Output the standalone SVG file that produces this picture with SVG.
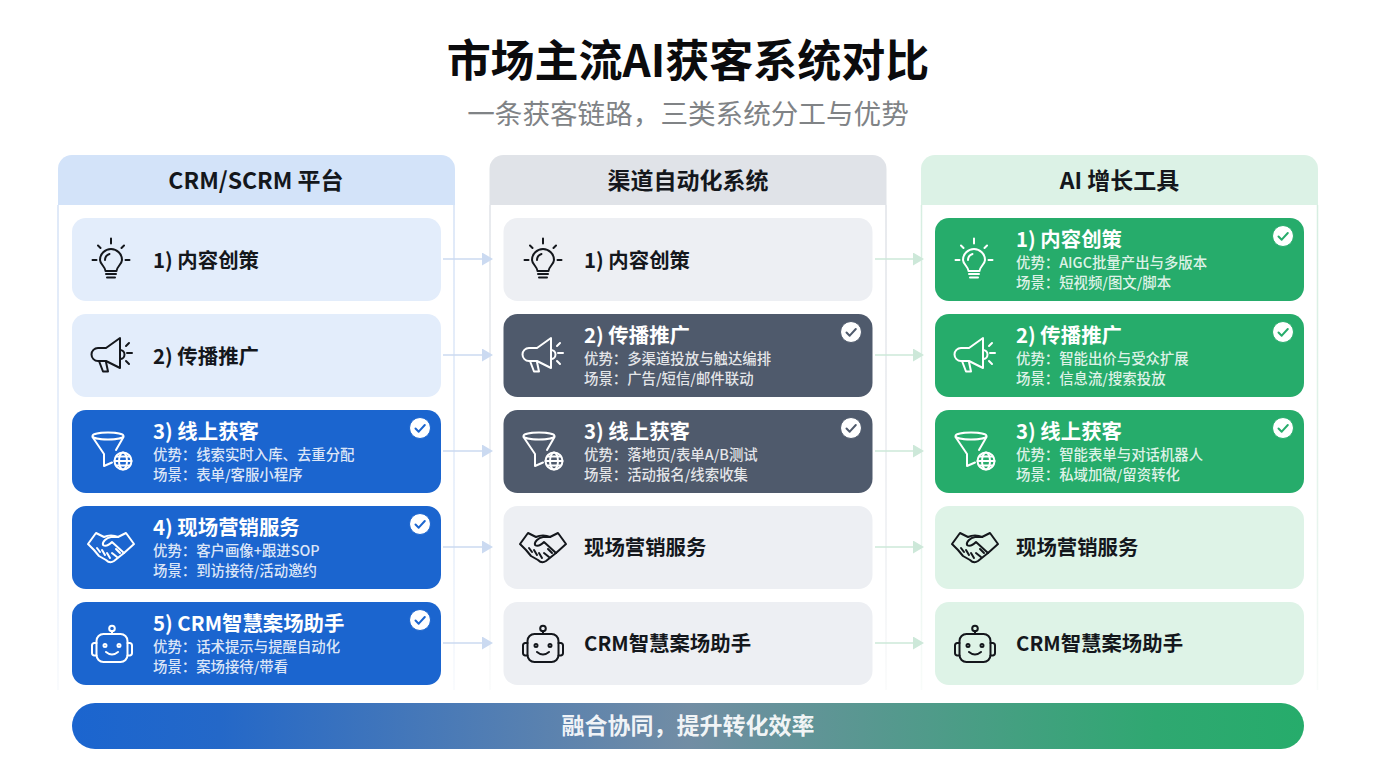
<svg xmlns="http://www.w3.org/2000/svg" xmlns:xlink="http://www.w3.org/1999/xlink" width="1376" height="768" viewBox="0 0 1376 768">
<style>
text{font-family:"Noto Sans CJK SC","Noto Sans",sans-serif}
.title{font-size:44px;font-weight:700;fill:#0b0b0d;text-anchor:middle}
.sub{font-size:27.6px;font-weight:400;fill:#808386;text-anchor:middle}
.hd{font-size:23px;font-weight:700;fill:#14171c;text-anchor:middle}
.ct{font-size:20.4px;font-weight:700}
.cd{font-size:14.4px;font-weight:500}
.bar{font-size:23px;font-weight:700;fill:#fff;text-anchor:middle;fill-opacity:.92}
.dk .ct{fill:#14171c}
.lt .ct{fill:#fff}
.lt .cd{fill:#fff;fill-opacity:.86}
.dk{color:#14171c}
.lt{color:#fff}
.ic{fill:none;stroke:currentColor;stroke-width:2;stroke-linecap:round;stroke-linejoin:round}
.blue-s{fill:#e3edfb}.grey-s{fill:#edeff3}.green-s{fill:#def3e7}
.blue{fill:#1b65cf}.grey{fill:#4f5a6c}.green{fill:#26ac6b}
.lb{stroke:#cbdaf1;stroke-width:1.6;fill:none}.lg{stroke:#cde8d9;stroke-width:1.6;fill:none}
</style>
<defs>
<linearGradient id="barG" x1="0" x2="1" y1="0" y2="0"><stop offset="0" stop-color="#1b65cf"/><stop offset=".12" stop-color="#2468c8"/><stop offset=".5" stop-color="#728da4"/><stop offset=".88" stop-color="#2fa871"/><stop offset="1" stop-color="#26ac6b"/></linearGradient>
<linearGradient id="fB" gradientUnits="userSpaceOnUse" x1="0" y1="205" x2="0" y2="695"><stop offset="0" stop-color="#d5e2f6"/><stop offset=".7" stop-color="#e6eefa"/><stop offset="1" stop-color="#f8fafd"/></linearGradient>
<linearGradient id="fK" gradientUnits="userSpaceOnUse" x1="0" y1="205" x2="0" y2="695"><stop offset="0" stop-color="#e0e3e8"/><stop offset=".7" stop-color="#edeff2"/><stop offset="1" stop-color="#fafbfb"/></linearGradient>
<linearGradient id="fG" gradientUnits="userSpaceOnUse" x1="0" y1="205" x2="0" y2="695"><stop offset="0" stop-color="#d6eee1"/><stop offset=".7" stop-color="#e8f5ee"/><stop offset="1" stop-color="#f9fcfa"/></linearGradient>
<marker id="aB" markerUnits="userSpaceOnUse" markerWidth="11" markerHeight="13" refX="0" refY="6.5" orient="auto"><path d="M0 0L11 6.5L0 13Z" fill="#cbdaf1"/></marker>
<marker id="aG" markerUnits="userSpaceOnUse" markerWidth="11" markerHeight="13" refX="0" refY="6.5" orient="auto"><path d="M0 0L11 6.5L0 13Z" fill="#cde8d9"/></marker>
<g id="i1" class="ic"><path d="M-5.500 12C-5.500 8-11 5-11 1A11 11 0 1 1 11 1C11 5 5.500 8 5.500 12Z"/><path d="M-5 15H5M-4 18.500H4M-6 1A6.500 6.500 0 0 1-1.500-5M0-20.500V-15.500M-18.500 1H-14.500M14.500 1H18.500M-13-13.500L-10.500-11M13-13.500L10.500-11"/></g>
<g id="i2" class="ic"><path d="M8-17V13L-6 6H-14A6.500 6.500 0 0 1-14-7H-6Z"/><path d="M-13 6L-9 16.500H-4L-6 7M8-5A4.500 4.500 0 0 1 8 4M14-9L17-12M15-2H20M14 6L17 9"/></g>
<g id="i3" class="ic"><ellipse cx="-4" cy="-15" rx="15.500" ry="3.500"/><path d="M-19.500-14L-8 3V15L0 11.500M11.500-14L4-1"/><circle cx="11" cy="10" r="8.500"/><path d="M2.500 10H19.500M4 5.500H18M4 14.500H18"/><ellipse cx="11" cy="10" rx="4" ry="8.500"/></g>
<g id="i4" class="ic"><path d="M-23-3L-15-14L-7-10C-3-12 3-12 7-10L15-14L23-3L13 6L3 14C0 16-3 15-5 13L-12 9L-17 3Z"/><path d="M7-10H0C-5-9-9-5-8-2C-5 0-2-2 1-5L13 6M-14 1L-11 5M-9 3L-6 8M-4 6L-1 11M5 2L9 6M1 6L6 10"/></g>
<g id="i5" class="ic"><rect x="-15.500" y="-10" width="31" height="28" rx="7"/><path d="M-15.500-1H-18A2.500 2.500 0 0 0-20 1.500V9A2.500 2.500 0 0 0-18 11.500H-15.500M15.500-1H18A2.500 2.500 0 0 1 20 1.500V9A2.500 2.500 0 0 1 18 11.500H15.500M0-13V-10M-6 8Q0 13 6 8"/><circle cx="0" cy="-15.500" r="2.800"/><circle cx="-7" cy="1.500" r="1.500"/><circle cx="7" cy="1.500" r="1.500"/></g>
<g id="chk"><circle r="10.500" fill="#fff"/><path d="M-4.500 0.500L-1.300 3.700L4.800-3" fill="none" stroke-width="2" stroke-linecap="round" stroke-linejoin="round"/></g>
</defs>
<rect width="1376" height="768" fill="#fff"/>
<g id="heading"><text class="title" x="688" y="77">市场主流AI获客系统对比</text><text class="sub" x="688" y="124">一条获客链路，三类系统分工与优势</text></g>

<g id="col-crm"><path d="M58 205V690M454 205V690" fill="none" stroke="url(#fB)" stroke-width="1.500"/><path d="M58 205V169A14 14 0 0 1 72 155H441A14 14 0 0 1 455 169V205Z" fill="#d3e3f9"/><text class="hd" x="256" y="189">CRM/SCRM 平台</text></g>
<g id="col-channel"><path d="M490 205V690M886 205V690" fill="none" stroke="url(#fK)" stroke-width="1.500"/><path d="M489.500 205V169A14 14 0 0 1 503.500 155H872.500A14 14 0 0 1 886.500 169V205Z" fill="#e0e3e8"/><text class="hd" x="688" y="189">渠道自动化系统</text></g>
<g id="col-ai"><path d="M921.500 205V690M1317.500 205V690" fill="none" stroke="url(#fG)" stroke-width="1.500"/><path d="M921 205V169A14 14 0 0 1 935 155H1304A14 14 0 0 1 1318 169V205Z" fill="#dcf2e6"/><text class="hd" x="1119.500" y="189">AI 增长工具</text></g>

<g id="connectors">
<path class="lb" d="M443 259H482" marker-end="url(#aB)"/><path class="lb" d="M443 355H482" marker-end="url(#aB)"/><path class="lb" d="M443 451H482" marker-end="url(#aB)"/><path class="lb" d="M443 547H482" marker-end="url(#aB)"/><path class="lb" d="M443 643H482" marker-end="url(#aB)"/>
<path class="lg" d="M875 259H913" marker-end="url(#aG)"/><path class="lg" d="M875 355H913" marker-end="url(#aG)"/><path class="lg" d="M875 451H913" marker-end="url(#aG)"/><path class="lg" d="M875 547H913" marker-end="url(#aG)"/><path class="lg" d="M875 643H913" marker-end="url(#aG)"/>
</g>

<g id="a1" class="dk"><rect class="blue-s" x="72" y="218" width="369" height="83" rx="14"/><use href="#i1" x="111" y="259"/><text class="ct" x="153" y="267.500">1) 内容创策</text></g>
<g id="a2" class="dk"><rect class="blue-s" x="72" y="314" width="369" height="83" rx="14"/><use href="#i2" x="112" y="355"/><text class="ct" x="153" y="363.500">2) 传播推广</text></g>
<g id="a3" class="lt"><rect class="blue" x="72" y="410" width="369" height="83" rx="14"/><use href="#i3" x="112" y="451"/><text class="ct" x="153" y="439">3) 线上获客</text><text class="cd" x="153" y="460">优势：线索实时入库、去重分配</text><text class="cd" x="153" y="480">场景：表单/客服小程序</text><use href="#chk" x="420" y="428" stroke="#1b65cf"/></g>
<g id="a4" class="lt"><rect class="blue" x="72" y="506" width="369" height="83" rx="14"/><use href="#i4" x="111" y="547"/><text class="ct" x="153" y="535">4) 现场营销服务</text><text class="cd" x="153" y="556">优势：客户画像+跟进SOP</text><text class="cd" x="153" y="576">场景：到访接待/活动邀约</text><use href="#chk" x="420" y="524" stroke="#1b65cf"/></g>
<g id="a5" class="lt"><rect class="blue" x="72" y="602" width="369" height="83" rx="14"/><use href="#i5" x="112" y="644"/><text class="ct" x="153" y="631">5) CRM智慧案场助手</text><text class="cd" x="153" y="652">优势：话术提示与提醒自动化</text><text class="cd" x="153" y="672">场景：案场接待/带看</text><use href="#chk" x="420" y="620" stroke="#1b65cf"/></g>

<g id="b1" class="dk"><rect class="grey-s" x="503.500" y="218" width="369" height="83" rx="14"/><use href="#i1" x="543" y="259"/><text class="ct" x="584" y="267.500">1) 内容创策</text></g>
<g id="b2" class="lt"><rect class="grey" x="503.500" y="314" width="369" height="83" rx="14"/><use href="#i2" x="543" y="355"/><text class="ct" x="584" y="343">2) 传播推广</text><text class="cd" x="584" y="364">优势：多渠道投放与触达编排</text><text class="cd" x="584" y="384">场景：广告/短信/邮件联动</text><use href="#chk" x="851" y="332" stroke="#4f5a6c"/></g>
<g id="b3" class="lt"><rect class="grey" x="503.500" y="410" width="369" height="83" rx="14"/><use href="#i3" x="543" y="451"/><text class="ct" x="584" y="439">3) 线上获客</text><text class="cd" x="584" y="460">优势：落地页/表单A/B测试</text><text class="cd" x="584" y="480">场景：活动报名/线索收集</text><use href="#chk" x="851" y="428" stroke="#4f5a6c"/></g>
<g id="b4" class="dk"><rect class="grey-s" x="503.500" y="506" width="369" height="83" rx="14"/><use href="#i4" x="543" y="547"/><text class="ct" x="584" y="555">现场营销服务</text></g>
<g id="b5" class="dk"><rect class="grey-s" x="503.500" y="602" width="369" height="83" rx="14"/><use href="#i5" x="543" y="644"/><text class="ct" x="584" y="651">CRM智慧案场助手</text></g>

<g id="c1" class="lt"><rect class="green" x="935" y="218" width="369" height="83" rx="14"/><use href="#i1" x="974" y="259"/><text class="ct" x="1016" y="247">1) 内容创策</text><text class="cd" x="1016" y="268">优势：AIGC批量产出与多版本</text><text class="cd" x="1016" y="288">场景：短视频/图文/脚本</text><use href="#chk" x="1283" y="236" stroke="#26ac6b"/></g>
<g id="c2" class="lt"><rect class="green" x="935" y="314" width="369" height="83" rx="14"/><use href="#i2" x="975" y="355"/><text class="ct" x="1016" y="343">2) 传播推广</text><text class="cd" x="1016" y="364">优势：智能出价与受众扩展</text><text class="cd" x="1016" y="384">场景：信息流/搜索投放</text><use href="#chk" x="1283" y="332" stroke="#26ac6b"/></g>
<g id="c3" class="lt"><rect class="green" x="935" y="410" width="369" height="83" rx="14"/><use href="#i3" x="975" y="451"/><text class="ct" x="1016" y="439">3) 线上获客</text><text class="cd" x="1016" y="460">优势：智能表单与对话机器人</text><text class="cd" x="1016" y="480">场景：私域加微/留资转化</text><use href="#chk" x="1283" y="428" stroke="#26ac6b"/></g>
<g id="c4" class="dk"><rect class="green-s" x="935" y="506" width="369" height="83" rx="14"/><use href="#i4" x="975" y="547"/><text class="ct" x="1016" y="555">现场营销服务</text></g>
<g id="c5" class="dk"><rect class="green-s" x="935" y="602" width="369" height="83" rx="14"/><use href="#i5" x="975" y="644"/><text class="ct" x="1016" y="651">CRM智慧案场助手</text></g>

<g id="banner"><rect x="72" y="703" width="1232" height="46" rx="23" fill="url(#barG)"/><text class="bar" x="688" y="734">融合协同，提升转化效率</text></g>
</svg>
